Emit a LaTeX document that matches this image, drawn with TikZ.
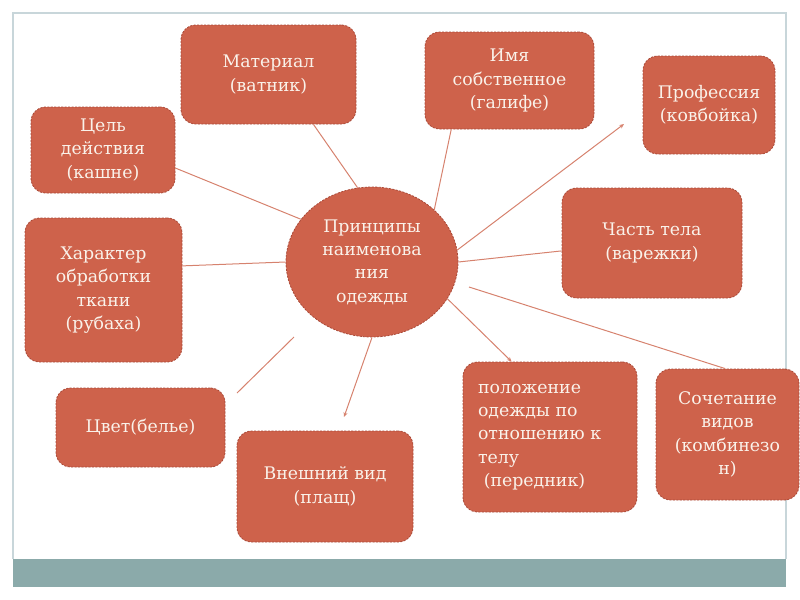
\documentclass[tikz,border=0pt]{standalone}
\usepackage{fontspec}
\setmainfont{DejaVu Serif}
\usepackage{xcolor}
\usetikzlibrary{shapes}
\usetikzlibrary{arrows.meta}

\definecolor{boxfill}{RGB}{206,98,75}
\definecolor{boxline}{RGB}{170,74,56}
\definecolor{boxtext}{RGB}{250,242,234}
\definecolor{linkcol}{RGB}{214,130,110}
\definecolor{framecol}{RGB}{200,214,218}
\definecolor{barcol}{RGB}{139,170,170}

\tikzset{
  topic/.style={rectangle, rounded corners=11pt, fill=boxfill, draw=boxline,
    dash pattern={on 1.6pt off 1pt}, line width=0.6pt, text=boxtext,
    font=\fontsize{13}{17.5}\selectfont, align=center, inner sep=0pt},
  hub/.style={ellipse, fill=boxfill, draw=boxline, dash pattern={on 1.6pt off 1pt},
    line width=0.6pt, text=boxtext, font=\fontsize{13}{17.5}\selectfont,
    align=center, inner sep=0pt, minimum width=129pt, minimum height=112.5pt},
  link/.style={draw=linkcol, line width=0.75pt},
  tip/.style={-{Stealth[length=3.5pt,width=3pt]}}
}

\begin{document}
\begin{tikzpicture}[x=0.75pt,y=0.75pt,yscale=-1,xscale=1]
\useasboundingbox (0,0) rectangle (800,600);

%Frame
\draw [color=framecol, line width=1.1pt] (13,559) -- (13,13) -- (786,13) -- (786,559) ;
\fill [barcol] (13,559) rectangle (786,587) ;

% Hub
\node [hub] (ctr) at (372,262) {Принципы\\наименова\\ния\\одежды};

% Topic boxes
\node [topic, minimum width=131.25pt, minimum height=74.25pt] (mat) at (268.5,74.5) {Материал\\(ватник)};
\node [topic, minimum width=108pt, minimum height=64.5pt] (goal) at (103,150) {Цель\\действия\\(кашне)};
\node [topic, minimum width=117.75pt, minimum height=108pt] (treat) at (103.5,290) {Характер\\обработки\\ткани\\(рубаха)};
\node [topic, minimum width=126.75pt, minimum height=59.25pt] (colour) at (140.5,427.5) {Цвет(белье)};
\node [topic, minimum width=132pt, minimum height=83.25pt] (look) at (325,486.5) {Внешний вид\\(плащ)};
\node [topic, minimum width=130.5pt, minimum height=112.5pt, text width=108pt, align=left] (pos) at (550,437) {положение\\одежды по\\отношению к\\телу\\\ (передник)};
\node [topic, minimum width=107.25pt, minimum height=98.25pt] (comb) at (727.5,434.5) {Сочетание\\видов\\(комбинезо\\н)};
\node [topic, minimum width=135pt, minimum height=82.5pt] (part) at (652,243) {Часть тела\\(варежки)};
\node [topic, minimum width=99pt, minimum height=73.5pt] (prof) at (709,105) {Профессия\\(ковбойка)};
\node [topic, minimum width=126.75pt, minimum height=72.75pt] (pname) at (509.5,80.5) {Имя\\собственное\\(галифе)};

% Free ends
\coordinate (colA) at (294,337);
\coordinate (colB) at (237,393);
\coordinate (lookB) at (344,417);
\coordinate (combA) at (469,287);
\coordinate (profB) at (624,124);

%Straight Lines
\draw [link] (ctr.101.5) -- (mat.-48) ;
\draw [link] (ctr.149) -- (goal.-14.6) ;
\draw [link] (ctr.180) -- (treat.17) ;
\draw [link] (colA) -- (colB) ;
\draw [link, tip] (ctr.-90) -- (lookB) ;
\draw [link, tip] (ctr.-26.3) -- (pos.117.5) ;
\draw [link] (combA) -- (comb.92) ;
\draw [link] (ctr.0) -- (part.185.7) ;
\draw [link, tip] (ctr.8.1) -- (profB) ;
\draw [link] (ctr.40.2) -- (pname.220) ;

\end{tikzpicture}
\end{document}
